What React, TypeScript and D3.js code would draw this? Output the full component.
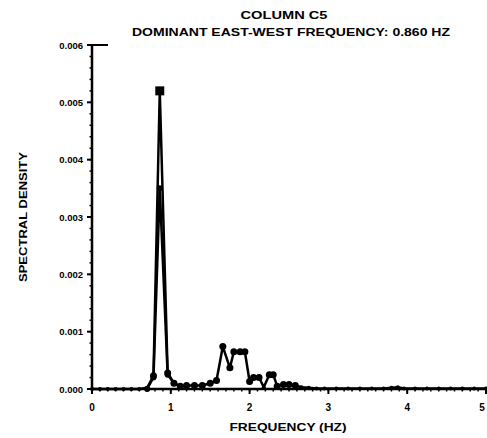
import React from "react";
import * as d3 from "d3";

const titleLines = ["COLUMN   C5", "DOMINANT EAST-WEST FREQUENCY:   0.860 HZ"];
const xLabel = "FREQUENCY (HZ)";
const yLabel = "SPECTRAL DENSITY";
const xTicks = [0, 1, 2, 3, 4, 5];
const yTicks = [0, 0.001, 0.002, 0.003, 0.004, 0.005, 0.006];
const yTickLabels = ["0.000", "0.001", "0.002", "0.003", "0.004", "0.005", "0.006"];

const freqA = [0, 0.1, 0.2, 0.3, 0.4, 0.5, 0.6, 0.7, 0.78, 0.86, 0.96, 1.04, 1.12, 1.2, 1.3, 1.4, 1.5, 1.58, 1.66, 1.75, 1.8, 1.88, 1.94, 2.0, 2.05, 2.12, 2.18, 2.25, 2.3, 2.35, 2.43, 2.5, 2.58, 2.66, 2.75, 2.85, 2.95, 3.1, 3.25, 3.4, 3.55, 3.7, 3.8, 3.88, 3.96, 4.1, 4.25, 4.4, 4.55, 4.7, 4.85, 5.0];
const densA = [0, 0, 0, 0, 0, 0, 0, 0.00002, 0.00023, 0.0052, 0.00028, 0.0001, 0.00005, 0.00006, 0.00006, 0.00006, 0.0001, 0.00015, 0.00074, 0.00037, 0.00065, 0.00065, 0.00065, 0.00013, 0.0002, 0.0002, 0.00003, 0.00025, 0.00025, 0.00005, 0.00008, 0.00008, 0.00006, 0.00003, 0.00002, 0.00001, 0.00001, 0.00001, 0.00001, 0.00001, 0.00001, 0.00001, 0.00002, 0.00003, 0.00001, 0.00001, 0.00001, 0.00001, 0.00001, 0.00001, 0.00001, 0.00001];
const freqB = [0.7, 0.78, 0.86, 0.96, 1.04];
const densB = [0, 0.0002, 0.0035, 0.00025, 0.0001];

const W = 487;
const H = 438;
const font = "'Liberation Sans', 'DejaVu Sans', sans-serif";

export default function App() {
  const x = d3.scaleLinear().domain([0, 5]).range([92, 486]);
  const y = d3.scaleLinear().domain([0, 0.006]).range([389, 45]);
  const ptsA = freqA.map((f, i) => [f, densA[i]] as [number, number]);
  const ptsB = freqB.map((f, i) => [f, densB[i]] as [number, number]);
  const line = d3.line<[number, number]>().x((d) => x(d[0])).y((d) => y(d[1]));
  const yMinor = d3.range(0, 0.00601, 0.0002);
  const xMinor = d3.range(0, 5.001, 0.1);
  const peakIdx = densA.indexOf(d3.max(densA) as number);

  return (
    <svg width={W} height={H} style={{ position: "absolute", left: 0, top: 0, background: "#fff" }}>
      <g fontFamily={font} fontWeight="bold" fill="#000">
        <text x={284} y={19} fontSize={10} textAnchor="middle" textLength={87} lengthAdjust="spacingAndGlyphs">{titleLines[0]}</text>
        <text x={291} y={36} fontSize={10} textAnchor="middle" textLength={318} lengthAdjust="spacingAndGlyphs">{titleLines[1]}</text>
        <text x={288} y={431} fontSize={10.5} textAnchor="middle" textLength={117} lengthAdjust="spacingAndGlyphs">{xLabel}</text>
        <text transform={`translate(27,${(y(0) + y(0.006)) / 2}) rotate(-90)`} fontSize={10.5} textAnchor="middle" textLength={130} lengthAdjust="spacingAndGlyphs">{yLabel}</text>
        {yTicks.map((t, i) => (
          <text key={"yl" + i} x={83} y={y(t) + 3.5} fontSize={9.5} textAnchor="end">{yTickLabels[i]}</text>
        ))}
        {xTicks.map((t) => (
          <text key={"xl" + t} x={Math.min(x(t), 482)} y={411} fontSize={10} textAnchor="middle">{t}</text>
        ))}
      </g>
      <g stroke="#000" fill="none">
        <line x1={x(0)} x2={x(0)} y1={y(0.006)} y2={y(0)} strokeWidth={2.5} />
        <line x1={x(0)} x2={x(5)} y1={y(0)} y2={y(0)} strokeWidth={2.5} />
        <line x1={x(0) - 4} x2={x(0) + 16} y1={y(0.006)} y2={y(0.006)} strokeWidth={2} />
        {yMinor.map((t, i) => (
          <line key={"ym" + i} x1={x(0) - 2.5} x2={x(0)} y1={y(t)} y2={y(t)} strokeWidth={1.5} />
        ))}
        {yTicks.map((t, i) => (
          <line key={"yt" + i} x1={x(0) - 5} x2={x(0)} y1={y(t)} y2={y(t)} strokeWidth={2} />
        ))}
        {xMinor.map((t, i) => (
          <line key={"xm" + i} x1={x(t)} x2={x(t)} y1={y(0)} y2={y(0) + 2.5} strokeWidth={1.5} />
        ))}
        {xTicks.map((t) => (
          <line key={"xt" + t} x1={x(t)} x2={x(t)} y1={y(0)} y2={y(0) + 5} strokeWidth={2} />
        ))}
        <path d={line(ptsB) as string} strokeWidth={2.5} />
        <path d={line(ptsA) as string} strokeWidth={2.5} strokeLinejoin="round" />
      </g>
      <g fill="#000">
        {ptsA.map((d, i) =>
          i === peakIdx ? (
            <rect key={"pa" + i} x={x(d[0]) - 4.5} y={y(d[1]) - 4.5} width={9} height={9} />
          ) : (
            <circle key={"pa" + i} cx={x(d[0])} cy={y(d[1])} r={d[1] > 0.00004 ? 3.5 : 2} />
          )
        )}
        {ptsB.map((d, i) => (
          <circle key={"pb" + i} cx={x(d[0])} cy={y(d[1])} r={3} />
        ))}
      </g>
    </svg>
  );
}
